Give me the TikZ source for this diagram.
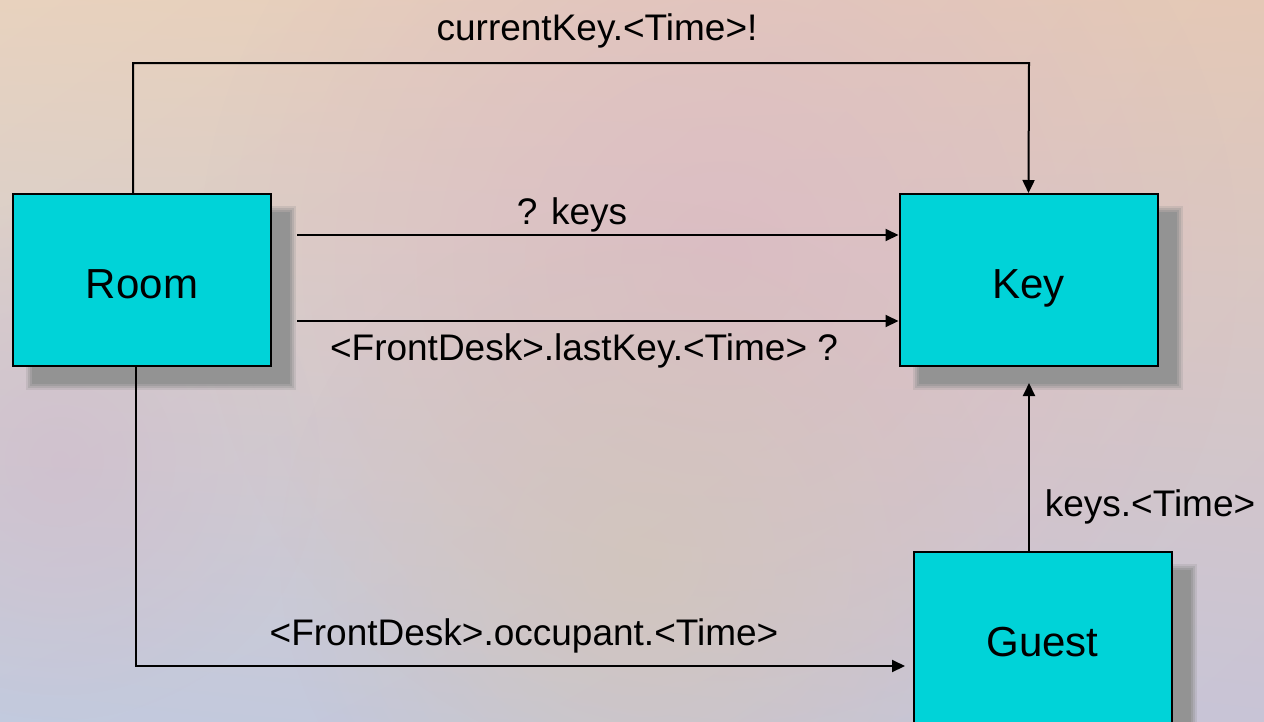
\documentclass[tikz,border=0pt]{standalone}
\usepackage{fontspec}
\setmainfont{Liberation Sans}
\usetikzlibrary{arrows.meta,fadings,shadings}
\definecolor{boxcyan}{HTML}{00D3D8}
\definecolor{shadowgray}{HTML}{939393}
\definecolor{bgTL}{HTML}{E8D2BE}
\definecolor{bgTR}{HTML}{E4C8B6}
\definecolor{bgBL}{HTML}{C2CADE}
\definecolor{bgBR}{HTML}{C8C4D6}
\definecolor{blobpink}{HTML}{DCBAC4}
\definecolor{blobbeige}{HTML}{D2C6BA}
\definecolor{blobmauve}{HTML}{D0BACC}
\tikzfading[name=softblob, inner color=transparent!0, outer color=transparent!100]
\tikzset{
  box/.style={draw=black, line width=2pt, fill=boxcyan, minimum width=258pt, minimum height=172pt, inner sep=0pt, text height=36pt, text depth=0pt, font=\fontsize{42}{50}\selectfont},
  lbl/.style={anchor=base, inner sep=0pt, font=\fontsize{37}{44}\selectfont},
  conn/.style={draw=black, line width=2pt},
  arr/.style={conn, -{Triangle[length=13pt,width=12pt]}},
}
\newcommand{\boxshadow}[1]{%
  \fill[shadowgray, opacity=0.25] ([shift={(14pt,-13pt)}]#1.north west) rectangle ([shift={(24pt,-23pt)}]#1.south east);
  \fill[shadowgray, opacity=0.35] ([shift={(16pt,-15pt)}]#1.north west) rectangle ([shift={(22pt,-21pt)}]#1.south east);
  \fill[shadowgray, opacity=0.5] ([shift={(18pt,-17pt)}]#1.north west) rectangle ([shift={(20pt,-19pt)}]#1.south east);
  \fill[shadowgray] ([shift={(20pt,-19pt)}]#1.north west) rectangle ([shift={(18pt,-17pt)}]#1.south east);
}
\begin{document}
\begin{tikzpicture}[x=1pt, y=-1pt]
\useasboundingbox (0,0) rectangle (1264,721);
% background
\shade[upper left=bgTL, upper right=bgTR, lower left=bgBL, lower right=bgBR] (0,0) rectangle (1264,721);
\fill[blobpink, path fading=softblob, opacity=0.8] (720,260) circle (520);
\fill[blobbeige, path fading=softblob, opacity=0.8] (640,560) circle (360);
\fill[blobmauve, path fading=softblob, opacity=0.6] (60,460) circle (260);
% shadow placeholders
\path (142,280) coordinate (roomc) (1028.5,280) coordinate (keyc) (1042.5,638) coordinate (guestc);
\node[box, draw=none, fill=none] (RoomS) at (roomc) {};
\node[box, draw=none, fill=none] (KeyS) at (keyc) {};
\node[box, draw=none, fill=none] (GuestS) at (guestc) {};
\boxshadow{RoomS}
\boxshadow{KeyS}
\boxshadow{GuestS}
% boxes
\node[box] (Room) at (roomc) {Room};
\node[box] (Key) at (keyc) {Key};
\node[box] (Guest) at (guestc) {Guest};
% coordinates for connector ends
\coordinate (topright) at (1029,63);
\coordinate (k1s) at (297,235);
\coordinate (k2s) at (297,321);
\coordinate (gEnd) at (1029,383);
\coordinate (occEnd) at (905,666);
% connectors
\draw[arr] ([xshift=-9pt]Room.north) |- (topright) -- (Key.north);
\draw[arr] (k1s) -- (k1s -| Key.west);
\draw[arr] (k2s) -- (k2s -| Key.west);
\draw[arr] ([xshift=-13.5pt]Guest.north) -- (gEnd);
\draw[arr] ([xshift=-6pt]Room.south) |- (occEnd);
% labels
\node[lbl] (l1) at (597,40) {currentKey.<Time>!};
\node[lbl] (l2) at (572,224) {? keys};
\node[lbl] (l3) at (584,360) {<FrontDesk>.lastKey.<Time> ?};
\node[lbl] (l4) at (1150,516) {keys.<Time>};
\node[lbl] (l5) at (524,645) {<FrontDesk>.occupant.<Time>};
\end{tikzpicture}
\end{document}
